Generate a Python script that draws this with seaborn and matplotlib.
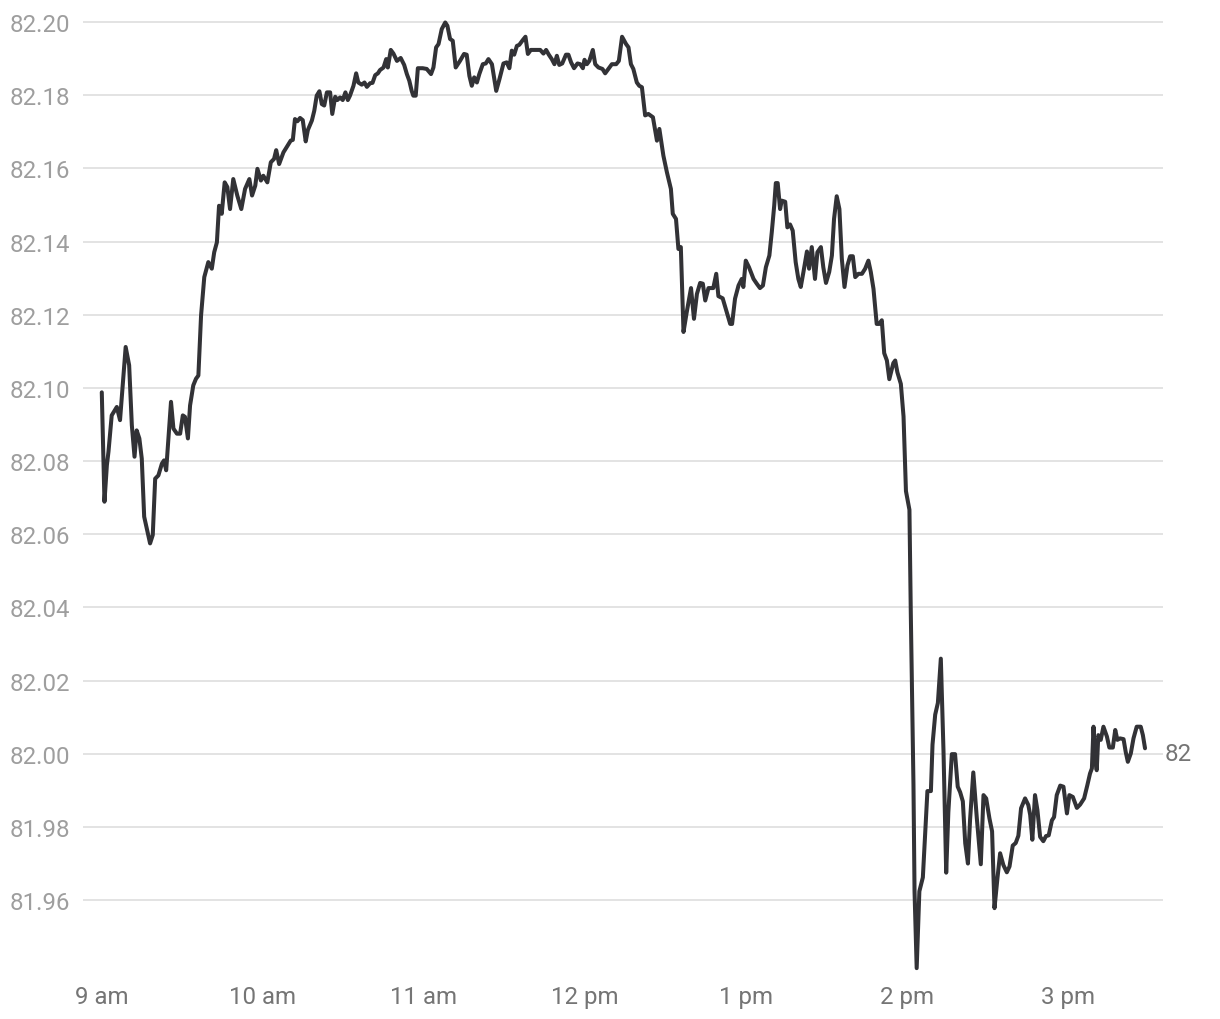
import matplotlib
matplotlib.use("Agg")
import matplotlib.pyplot as plt
import seaborn as sns
import pandas as pd

# Intraday quote, minutes after 9:00 am
minutes = [
    0.0, 1.0, 1.9, 2.5, 3.7, 5.6, 6.8, 8.9, 10.2, 11.2,
    12.2, 13.0, 14.0, 14.9, 15.8, 18.0, 19.0, 19.9, 21.1, 22.4,
    23.2, 24.0, 25.8, 26.7, 28.0, 29.2, 30.2, 31.0, 32.1, 32.9,
    34.1, 35.1, 36.0, 37.0, 38.2, 39.7, 41.0, 41.9, 42.9, 43.7,
    44.7, 45.8, 46.8, 47.8, 49.0, 50.5, 52.0, 53.4, 55.0, 56.0,
    57.2, 58.0, 59.3, 60.2, 61.7, 63.0, 64.2, 65.0, 66.1, 67.7,
    69.2, 70.4, 71.2, 72.0, 72.9, 73.9, 74.9, 76.0, 76.8, 78.3,
    79.2, 80.1, 81.1, 82.0, 82.9, 83.9, 85.1, 85.9, 87.0, 87.8,
    88.8, 89.8, 90.8, 91.7, 92.5, 93.8, 94.8, 95.6, 96.9, 97.9,
    98.8, 100.0, 100.9, 101.9, 102.9, 103.7, 105.0, 106.0, 106.6, 107.7,
    108.7, 110.0, 111.4, 112.7, 113.7, 114.6, 115.5, 116.1, 117.0, 117.8,
    119.6, 121.1, 122.7, 123.6, 124.6, 125.5, 126.7, 128.0, 128.8, 129.8,
    130.8, 131.9, 133.5, 135.0, 136.0, 137.0, 137.9, 138.8, 139.8, 140.7,
    142.0, 143.1, 144.1, 145.4, 146.2, 147.0, 148.2, 149.7, 150.9, 151.9,
    152.8, 153.7, 154.7, 155.6, 156.9, 157.9, 158.8, 159.9, 163.4, 164.6,
    165.6, 166.6, 167.7, 168.7, 169.6, 170.5, 171.6, 173.0, 173.9, 174.9,
    176.0, 177.3, 178.3, 179.3, 179.9, 180.8, 181.7, 183.0, 183.9, 185.1,
    186.6, 187.6, 188.8, 190.1, 191.7, 192.7, 193.9, 195.4, 196.3, 197.2,
    198.1, 199.4, 200.3, 201.3, 202.5, 203.7, 205.4, 206.9, 207.8, 209.3,
    210.6, 212.1, 212.8, 214.0, 214.9, 215.8, 216.8, 218.0, 219.6, 220.7,
    221.8, 223.0, 224.0, 224.9, 226.1, 227.9, 229.0, 229.8, 231.4, 232.9,
    234.2, 234.9, 236.0, 237.3, 238.5, 239.1, 240.0, 241.2, 242.9, 244.1,
    245.3, 246.4, 247.5, 248.8, 249.7, 250.6, 251.2, 251.9, 252.8, 253.4,
    254.7, 255.5, 256.5, 257.5, 258.6, 259.6, 260.5, 261.5, 262.8, 263.6,
    264.6, 265.8, 266.7, 268.0, 268.9, 269.9, 271.1, 272.1, 272.9, 273.9,
    274.9, 275.8, 276.8, 277.9, 278.9, 279.9, 280.8, 282.0, 283.3, 284.5,
    285.7, 286.6, 287.6, 288.8, 289.8, 290.7, 291.6, 292.6, 293.5, 295.0,
    295.7, 296.5, 297.8, 298.8, 299.7, 301.0, 301.5, 302.1, 302.5, 302.9,
    303.7, 304.7, 306.0, 307.7, 309.0, 309.6, 310.6, 311.6, 312.7, 313.7,
    314.7, 315.5, 316.8, 318.0, 319.0, 319.9, 320.9, 321.8, 322.8, 323.6,
    324.8, 326.1, 327.6, 328.6, 329.6, 330.8, 331.8, 332.7, 333.8, 334.8,
    336.0, 337.3, 338.3, 339.5, 340.6, 341.6, 342.6, 344.1, 345.3, 346.0,
    346.8, 347.8, 348.7, 349.7, 350.9, 351.9, 352.9, 354.1, 354.9, 355.9,
    357.2, 358.4, 359.7, 360.6, 361.9, 363.4, 364.6, 366.1, 367.3, 368.3,
    369.0, 369.6, 370.2, 370.8, 371.4, 372.3, 373.3, 374.6, 375.5, 376.8,
    377.7, 378.5, 379.5, 380.8, 381.6, 382.4, 383.5, 384.5, 385.7, 387.2,
    388.0, 388.8,
]

prices = [
    82.0988, 82.0689, 82.0789, 82.0826, 82.0925, 82.0948, 82.0912, 82.1112, 82.1062, 82.0898,
    82.0812, 82.0884, 82.0862, 82.0807, 82.0648, 82.0575, 82.0598, 82.0752, 82.0761, 82.0793,
    82.0802, 82.0775, 82.0962, 82.0889, 82.0875, 82.0875, 82.0925, 82.0921, 82.0862, 82.0952,
    82.1007, 82.1025, 82.1034, 82.1198, 82.1303, 82.1344, 82.1326, 82.1371, 82.1398, 82.1498,
    82.1476, 82.1562, 82.1549, 82.1489, 82.1571, 82.1526, 82.1489, 82.1544, 82.1571, 82.1526,
    82.1553, 82.1599, 82.1567, 82.1580, 82.1562, 82.1617, 82.1626, 82.1650, 82.1612, 82.1644,
    82.1662, 82.1676, 82.1678, 82.1735, 82.1729, 82.1738, 82.1732, 82.1674, 82.1705, 82.1731,
    82.1758, 82.1799, 82.1811, 82.1776, 82.1772, 82.1808, 82.1808, 82.1749, 82.1796, 82.1787,
    82.1794, 82.1787, 82.1808, 82.1787, 82.1799, 82.1826, 82.1860, 82.1835, 82.1829, 82.1835,
    82.1823, 82.1833, 82.1834, 82.1855, 82.1860, 82.1869, 82.1876, 82.1899, 82.1876, 82.1924,
    82.1914, 82.1894, 82.1902, 82.1883, 82.1858, 82.1840, 82.1812, 82.1799, 82.1799, 82.1874,
    82.1874, 82.1872, 82.1858, 82.1876, 82.1931, 82.1940, 82.1981, 82.1999, 82.1990, 82.1954,
    82.1949, 82.1876, 82.1894, 82.1913, 82.1911, 82.1853, 82.1826, 82.1849, 82.1835, 82.1858,
    82.1885, 82.1887, 82.1899, 82.1885, 82.1849, 82.1812, 82.1844, 82.1887, 82.1890, 82.1874,
    82.1922, 82.1911, 82.1935, 82.1938, 82.1951, 82.1960, 82.1913, 82.1924, 82.1924, 82.1914,
    82.1924, 82.1911, 82.1899, 82.1885, 82.1908, 82.1883, 82.1887, 82.1911, 82.1911, 82.1890,
    82.1874, 82.1887, 82.1885, 82.1874, 82.1897, 82.1885, 82.1894, 82.1924, 82.1885, 82.1876,
    82.1872, 82.1860, 82.1872, 82.1885, 82.1885, 82.1894, 82.1960, 82.1940, 82.1931, 82.1885,
    82.1872, 82.1835, 82.1826, 82.1822, 82.1745, 82.1749, 82.1740, 82.1676, 82.1708, 82.1635,
    82.1590, 82.1544, 82.1476, 82.1462, 82.1380, 82.1385, 82.1153, 82.1207, 82.1273, 82.1189,
    82.1257, 82.1287, 82.1285, 82.1239, 82.1273, 82.1273, 82.1312, 82.1251, 82.1245, 82.1207,
    82.1175, 82.1175, 82.1244, 82.1280, 82.1298, 82.1276, 82.1348, 82.1330, 82.1298, 82.1285,
    82.1273, 82.1280, 82.1330, 82.1362, 82.1426, 82.1498, 82.1560, 82.1560, 82.1489, 82.1512,
    82.1509, 82.1439, 82.1447, 82.1430, 82.1344, 82.1298, 82.1276, 82.1317, 82.1373, 82.1326,
    82.1385, 82.1298, 82.1371, 82.1385, 82.1330, 82.1287, 82.1317, 82.1362, 82.1462, 82.1524,
    82.1489, 82.1353, 82.1276, 82.1335, 82.1360, 82.1360, 82.1303, 82.1312, 82.1312, 82.1326,
    82.1348, 82.1317, 82.1271, 82.1175, 82.1175, 82.1185, 82.1095, 82.1075, 82.1024, 82.1068,
    82.1075, 82.1043, 82.1011, 82.0922, 82.0718, 82.0667, 82.0388, 82.0107, 81.9917, 81.9624,
    81.9414, 81.9624, 81.9662, 81.9898, 81.9898, 82.0025, 82.0107, 82.0139, 82.0260, 82.0006,
    81.9675, 81.9840, 81.9999, 81.9999, 81.9910, 81.9895, 81.9870, 81.9755, 81.9700, 81.9820,
    81.9949, 81.9825, 81.9698, 81.9887, 81.9878, 81.9824, 81.9788, 81.9578, 81.9660, 81.9728,
    81.9696, 81.9676, 81.9692, 81.9749, 81.9756, 81.9776, 81.9851, 81.9878, 81.9860, 81.9833,
    81.9765, 81.9887, 81.9846, 81.9773, 81.9761, 81.9775, 81.9777, 81.9818, 81.9827, 81.9887,
    81.9913, 81.9910, 81.9837, 81.9887, 81.9882, 81.9852, 81.9861, 81.9878, 81.9914, 81.9946,
    81.9960, 82.0074, 81.9987, 81.9955, 82.0051, 82.0038, 82.0074, 82.0047, 82.0017, 82.0017,
    82.0065, 82.0038, 82.0042, 82.0040, 82.0005, 81.9978, 82.0001, 82.0042, 82.0074, 82.0074,
    82.0051, 82.0015,
]

hour_ticks = [0, 60, 120, 180, 240, 300, 360]
hour_labels = ["9 am", "10 am", "11 am", "12 pm", "1 pm", "2 pm", "3 pm"]
price_ticks = [81.96, 81.98, 82.00, 82.02, 82.04, 82.06, 82.08,
               82.10, 82.12, 82.14, 82.16, 82.18, 82.20]

sns.set_style("white")
plt.rcParams["font.family"] = ["Roboto", "DejaVu Sans"]

df = pd.DataFrame({"minute": minutes, "price": prices})

fig = plt.figure(figsize=(12.2, 10.2), dpi=100)
ax = fig.add_axes([83 / 1220, 1 - 975 / 1020, (1163 - 83) / 1220, (975 - 18) / 1020])

ax.grid(False)
for p in price_ticks:
    ax.axhline(p, color="#e3e3e3", linewidth=1.4, zorder=0)

sns.lineplot(data=df, x="minute", y="price", ax=ax, color="#323236",
             linewidth=2.9, estimator=None, sort=False)

ax.set_xlim(-7.0, 395.5)
ax.set_ylim(81.9398, 82.2014)

ax.set_yticks(price_ticks)
ax.set_yticklabels([f"{p:.2f}" for p in price_ticks])
ax.set_xticks(hour_ticks)
ax.set_xticklabels(hour_labels)

ax.tick_params(axis="y", length=0, pad=9.5, labelsize=17.3, labelcolor="#9e9e9e")
ax.tick_params(axis="x", length=0, pad=8, labelsize=17.3, labelcolor="#757575")
ax.set_xlabel("")
ax.set_ylabel("")
for side in ["top", "right", "bottom", "left"]:
    ax.spines[side].set_visible(False)

# last price tag on the right edge
last = prices[-1]
ax.annotate(f"{round(last, 2):g}", xy=(1.0, round(last, 2)),
            xycoords=("axes fraction", "data"), xytext=(1.5, 0),
            textcoords="offset points", ha="left", va="center",
            fontsize=17.3, color="#757575", annotation_clip=False)

fig.savefig("out.png", dpi=100)
